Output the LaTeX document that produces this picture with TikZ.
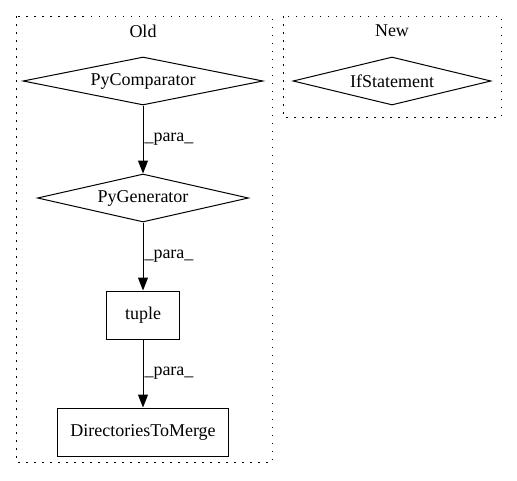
\documentclass[tikz,border=0pt]{standalone}
\usepackage{fontspec}
\setmainfont{Liberation Serif}
\usetikzlibrary{positioning,arrows.meta,shapes.geometric}

\begin{document}
\begin{tikzpicture}[font=\fontsize{18}{20}\selectfont, >={Triangle[length=13pt,width=10pt]},
  node distance=68pt,
  op/.style={draw, shape=diamond, aspect=5, inner sep=1pt, minimum height=48pt, line width=1pt},
  box/.style={draw, rectangle, minimum height=48pt, line width=1pt},
  cluster/.style={draw, dash pattern=on 1.5pt off 6.5pt, line width=1pt},
  para/.style={right, inner sep=1pt}]
  \useasboundingbox (0,0) rectangle (517pt,-480pt);
  % old version
  \draw[cluster] (16pt,-16pt) rectangle (272pt,-462pt);
  \node (old) at (143pt,-31pt) {Old};
  \node[op, minimum width=240pt] (cmp) at (143pt,-81pt) {PyComparator};
  \node[op, minimum width=211pt, below=of cmp] (gen) {PyGenerator};
  \node[box, minimum width=73pt, below=of gen] (tup) {tuple};
  \node[box, minimum width=171pt, below=of tup] (dtm) {DirectoriesToMerge};
  \draw[->, line width=1pt] (cmp) -- node[para] {\_para\_} (gen);
  \draw[->, line width=1pt] (gen) -- node[para] {\_para\_} (tup);
  \draw[->, line width=1pt] (tup) -- node[para] {\_para\_} (dtm);
  % new version
  \draw[cluster] (283pt,-16pt) rectangle (501pt,-117pt);
  \node (new) at (392pt,-31pt) {New};
  \node[op, minimum width=198pt] (ifs) at (392pt,-81pt) {IfStatement};
\end{tikzpicture}
\end{document}
